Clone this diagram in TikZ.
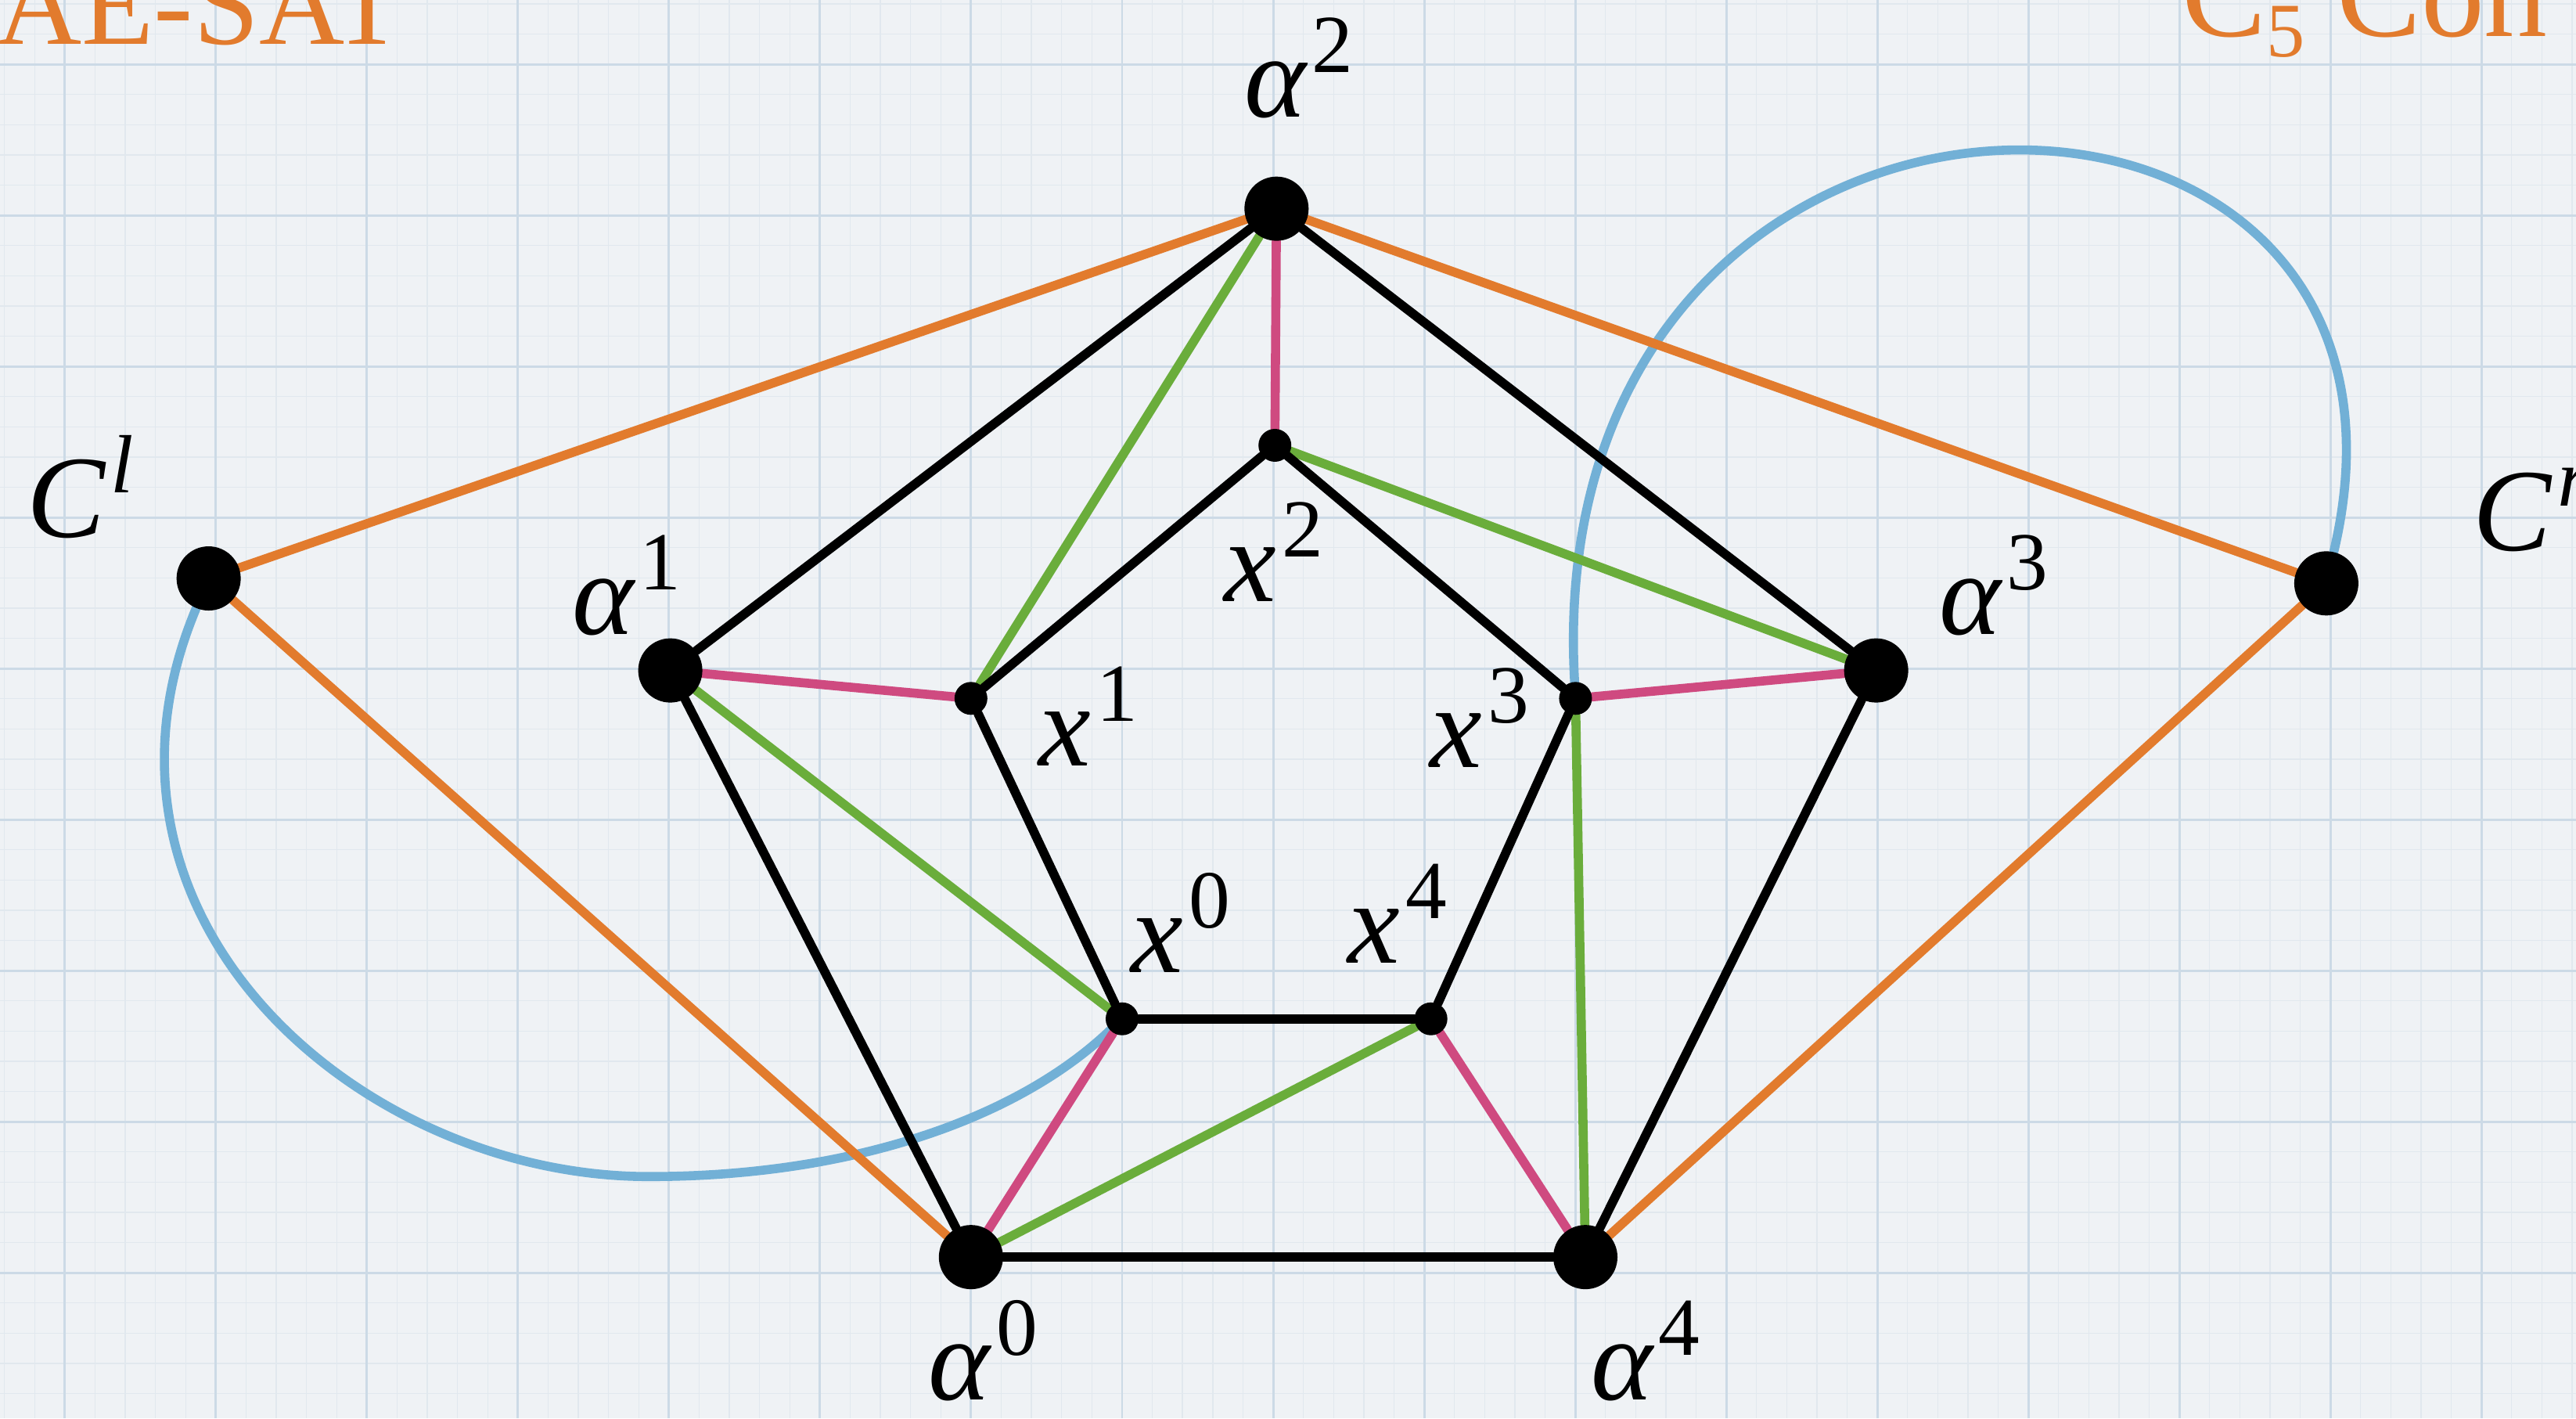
\documentclass[tikz,border=0pt]{standalone}
\usepackage{fontspec}
\setmainfont{Liberation Serif}
\pgfdeclarelayer{paper}
\pgfdeclarelayer{edges}
\pgfsetlayers{paper,edges,main}
\definecolor{paperbg}{HTML}{EFF2F5}
\definecolor{gridmaj}{HTML}{CCDAE6}
\definecolor{gridmin}{HTML}{E1E8EE}
\definecolor{corange}{HTML}{E27B2D}
\definecolor{cpink}{HTML}{CF4A80}
\definecolor{cgreen}{HTML}{6AAD3B}
\definecolor{cblue}{HTML}{72B0D6}
\newcommand\suplab[2]{{\itshape #1}\kern0.05em\raisebox{0.38em}{\fontsize{30}{30}\selectfont #2}}
\begin{document}
\begin{tikzpicture}[x=0.020995cm, y=-0.020995cm,
  bignode/.style={circle, fill=black, inner sep=0pt, minimum size=0.82cm},
  smallnode/.style={circle, fill=black, inner sep=0pt, minimum size=0.42cm},
  chalk/.style={line width=3.3pt, line cap=round},
  blackedge/.style={chalk, black},
  pinkedge/.style={chalk, cpink},
  greenedge/.style={chalk, cgreen},
  orangeedge/.style={chalk, corange},
  blueedge/.style={chalk, cblue},
  lbl/.style={anchor=base west, inner sep=0pt, font=\fontsize{42.7}{50}\selectfont},
  title/.style={inner sep=0pt, text=corange}]
\useasboundingbox (0,0) rectangle (1568,863.07);
\begin{pgfonlayer}{paper}
  \fill[paperbg] (0,0) rectangle (1568,863.07);
  \foreach \i in {-3,...,85} \draw[gridmin, line width=0.4pt] ({39.5+\i*18.386},0) -- ({39.5+\i*18.386},863.07);
  \foreach \i in {-3,...,45} \draw[gridmin, line width=0.4pt] (0,{39.1+\i*18.386}) -- (1568,{39.1+\i*18.386});
  \foreach \i in {0,...,17} \draw[gridmaj, line width=0.85pt] ({39.5+\i*91.93},0) -- ({39.5+\i*91.93},863.07);
  \foreach \i in {0,...,9} \draw[gridmaj, line width=0.85pt] (0,{39.1+\i*91.93}) -- (1568,{39.1+\i*91.93});
\end{pgfonlayer}

% nodes
\node[bignode] (a0) at (591,765) {};
\node[bignode] (a1) at (408,408) {};
\node[bignode] (a2) at (777,127) {};
\node[bignode] (a3) at (1142,408) {};
\node[bignode] (a4) at (965,765) {};
\node[bignode] (cl) at (127,352) {};
\node[bignode] (cr) at (1416,355) {};
\node[smallnode] (x0) at (683,620) {};
\node[smallnode] (x1) at (591,425) {};
\node[smallnode] (x2) at (776,271) {};
\node[smallnode] (x3) at (959,425) {};
\node[smallnode] (x4) at (871,620) {};
\coordinate (lbot) at (395,716);

\begin{pgfonlayer}{edges}
  % blue curves
  \draw[blueedge] (cl) .. controls (40,560) and (220,716) .. (lbot)
                       .. controls (520,716) and (620,680) .. (x0);
  \draw[blueedge] (x3) .. controls (935,-5) and (1500,0) .. (cr);
  % orange
  \draw[orangeedge] (cl) -- (a2);
  \draw[orangeedge] (cl) -- (a0);
  \draw[orangeedge] (cr) -- (a2);
  \draw[orangeedge] (cr) -- (a4);
  % green
  \draw[greenedge] (a2) -- (x1);
  \draw[greenedge] (a1) -- (x0);
  \draw[greenedge] (a0) -- (x4);
  \draw[greenedge] (a4) -- (x3);
  \draw[greenedge] (a3) -- (x2);
  % pink
  \draw[pinkedge] (a0) -- (x0);
  \draw[pinkedge] (a1) -- (x1);
  \draw[pinkedge] (a2) -- (x2);
  \draw[pinkedge] (a3) -- (x3);
  \draw[pinkedge] (a4) -- (x4);
  % black
  \draw[blackedge] (a0) -- (a1);
  \draw[blackedge] (a1) -- (a2);
  \draw[blackedge] (a2) -- (a3);
  \draw[blackedge] (a3) -- (a4);
  \draw[blackedge] (a4) -- (a0);
  \draw[blackedge] (x0) -- (x1);
  \draw[blackedge] (x1) -- (x2);
  \draw[blackedge] (x2) -- (x3);
  \draw[blackedge] (x3) -- (x4);
  \draw[blackedge] (x4) -- (x0);
\end{pgfonlayer}

% labels
\node[lbl] (la2) at (757,71) {\suplab{α}{2}};
\node[lbl] (la1) at (348,386) {\suplab{α}{1}};
\node[lbl] (la3) at (1180,386) {\suplab{α}{3}};
\node[lbl] (la0) at (565,852) {\suplab{α}{0}};
\node[lbl] (la4) at (968,852) {\suplab{α}{4}};
\node[lbl] (lx0) at (688,592) {\suplab{x}{0}};
\node[lbl] (lx1) at (632,466) {\suplab{x}{1}};
\node[lbl] (lx2) at (745,366) {\suplab{x}{2}};
\node[lbl] (lx3) at (870,467) {\suplab{x}{3}};
\node[lbl] (lx4) at (820,586) {\suplab{x}{4}};
\node[lbl] (lcl) at (16,327) {\suplab{C}{\itshape l}};
\node[lbl] (lcr) at (1505,335) {\suplab{C}{\itshape r}};

% titles
\node[title, anchor=base east, font=\fontsize{43}{50}\selectfont] (t1) at (246,27) {AE-SAT};
\node[title, anchor=base west, font=\fontsize{46}{52}\selectfont] (t2) at (1328,22)
  {C\raisebox{-0.16em}{\fontsize{28}{30}\selectfont 5}\hspace{0.25em}Con};
\end{tikzpicture}
\end{document}
